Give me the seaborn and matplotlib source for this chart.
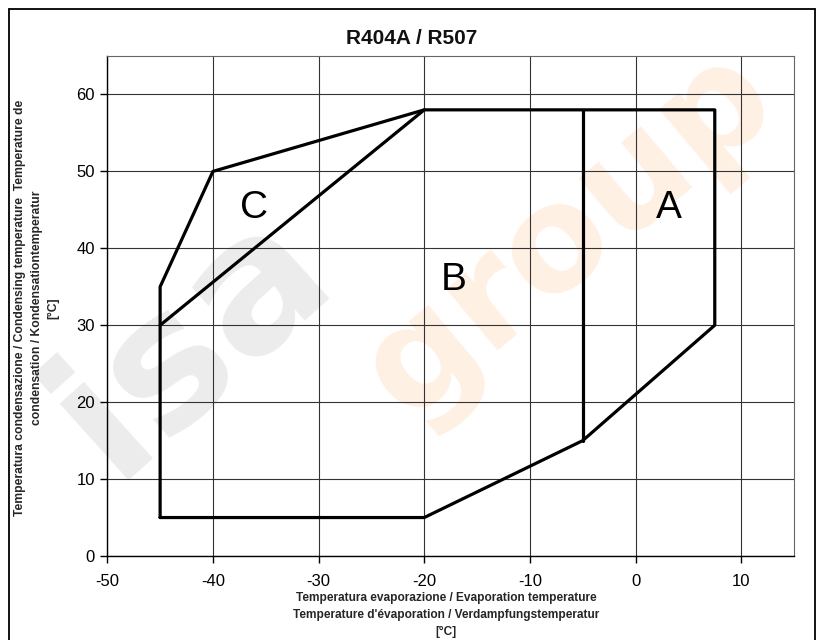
import numpy as np
import pandas as pd
import matplotlib
matplotlib.use('Agg')
import matplotlib.pyplot as plt
import seaborn as sns
from matplotlib.lines import Line2D

# envelope segments (evaporation temp, condensing temp)
outer_x = [-45, -20, -5, 7.5, 7.5, -20, -40, -45, -45]
outer_y = [5, 5, 15, 30, 58, 58, 50, 35, 5]
split_ab_x = [-5, -5]
split_ab_y = [15, 58]
split_bc_x = [-45, -20]
split_bc_y = [30, 58]

zone_names = ['A', 'B', 'C']
zone_x = [3.2, -17.2, -36.1]
zone_y = [45.3, 35.9, 45.3]

x_ticks = [-50, -40, -30, -20, -10, 0, 10]
y_ticks = [0, 10, 20, 30, 40, 50, 60]

segs = pd.concat([
    pd.DataFrame({'t_evap': outer_x, 't_cond': outer_y, 'seg': 'outer'}),
    pd.DataFrame({'t_evap': split_ab_x, 't_cond': split_ab_y, 'seg': 'ab'}),
    pd.DataFrame({'t_evap': split_bc_x, 't_cond': split_bc_y, 'seg': 'bc'}),
], ignore_index=True)

sns.set_style('white')
plt.rcParams['font.family'] = ['Liberation Sans', 'DejaVu Sans']
plt.rcParams['axes.unicode_minus'] = False

fig = plt.figure(figsize=(8.21, 6.4), dpi=100)
ax = fig.add_axes([107.3/821, 1-556/640, (794-107.3)/821, (556-56)/640])
ax.patch.set_alpha(0)

# faint watermark behind everything
fig.text(190/821, 1-340/640, 'isa', fontsize=135, fontweight='bold', color='#ececec',
         rotation=42, ha='center', va='center', zorder=-5, family='DejaVu Sans')
fig.text(570/821, 1-235/640, 'group', fontsize=106, fontweight='bold', color='#fff0e4',
         rotation=40, ha='center', va='center', zorder=-5, family='DejaVu Sans')

sns.lineplot(data=segs, x='t_evap', y='t_cond', units='seg', estimator=None, sort=False,
             color='black', linewidth=2.3, ax=ax, legend=False)

for name, zx, zy in zip(zone_names, zone_x, zone_y):
    ax.text(zx, zy, name, fontsize=28, ha='center', va='center', color='black')

ax.set_xlim(-50, 15)
ax.set_ylim(0, 65)
ax.set_xticks(x_ticks)
ax.set_yticks(y_ticks)
ax.grid(True, color='#333333', linewidth=0.8)
ax.tick_params(axis='both', which='major', direction='out', length=5, width=1,
               color='black', labelsize=12, labelcolor='black', bottom=True, left=True)
ax.tick_params(axis='x', pad=8)
ax.tick_params(axis='y', pad=4)
for side in ['left', 'bottom']:
    ax.spines[side].set_color('black')
    ax.spines[side].set_linewidth(1)
for side in ['top', 'right']:
    ax.spines[side].set_color('#666666')
    ax.spines[side].set_linewidth(0.8)
ax.set_xlabel('')
ax.set_ylabel('')

fig.text(412/821, 1-38/640, 'R404A / R507', fontsize=15, fontweight='bold',
         ha='center', va='center', color='#111111')

fig.text(446/821, 1-615/640,
         "Temperatura evaporazione / Evaporation temperature\n"
         "Temperature d'évaporation / Verdampfungstemperatur\n[°C]",
         fontsize=8.6, fontweight='bold', ha='center', va='center', linespacing=1.6)

fig.text(37/821, 1-308/640,
         "Temperatura condensazione / Condensing temperature  Temperature de\n"
         "condensation / Kondensationtemperatur\n[°C]",
         fontsize=8.7, fontweight='bold', ha='center', va='center', rotation=90,
         linespacing=1.5, multialignment='center')

# outer frame around the figure
frame = [Line2D([9/821, 9/821], [0, 1-9/640]),
         Line2D([9/821, 815/821], [1-9/640, 1-9/640]),
         Line2D([815/821, 815/821], [1-9/640, 0])]
for ln in frame:
    ln.set_transform(fig.transFigure)
    ln.set_color('black')
    ln.set_linewidth(1.3)
    fig.add_artist(ln)

fig.savefig('out.png', dpi=100)
